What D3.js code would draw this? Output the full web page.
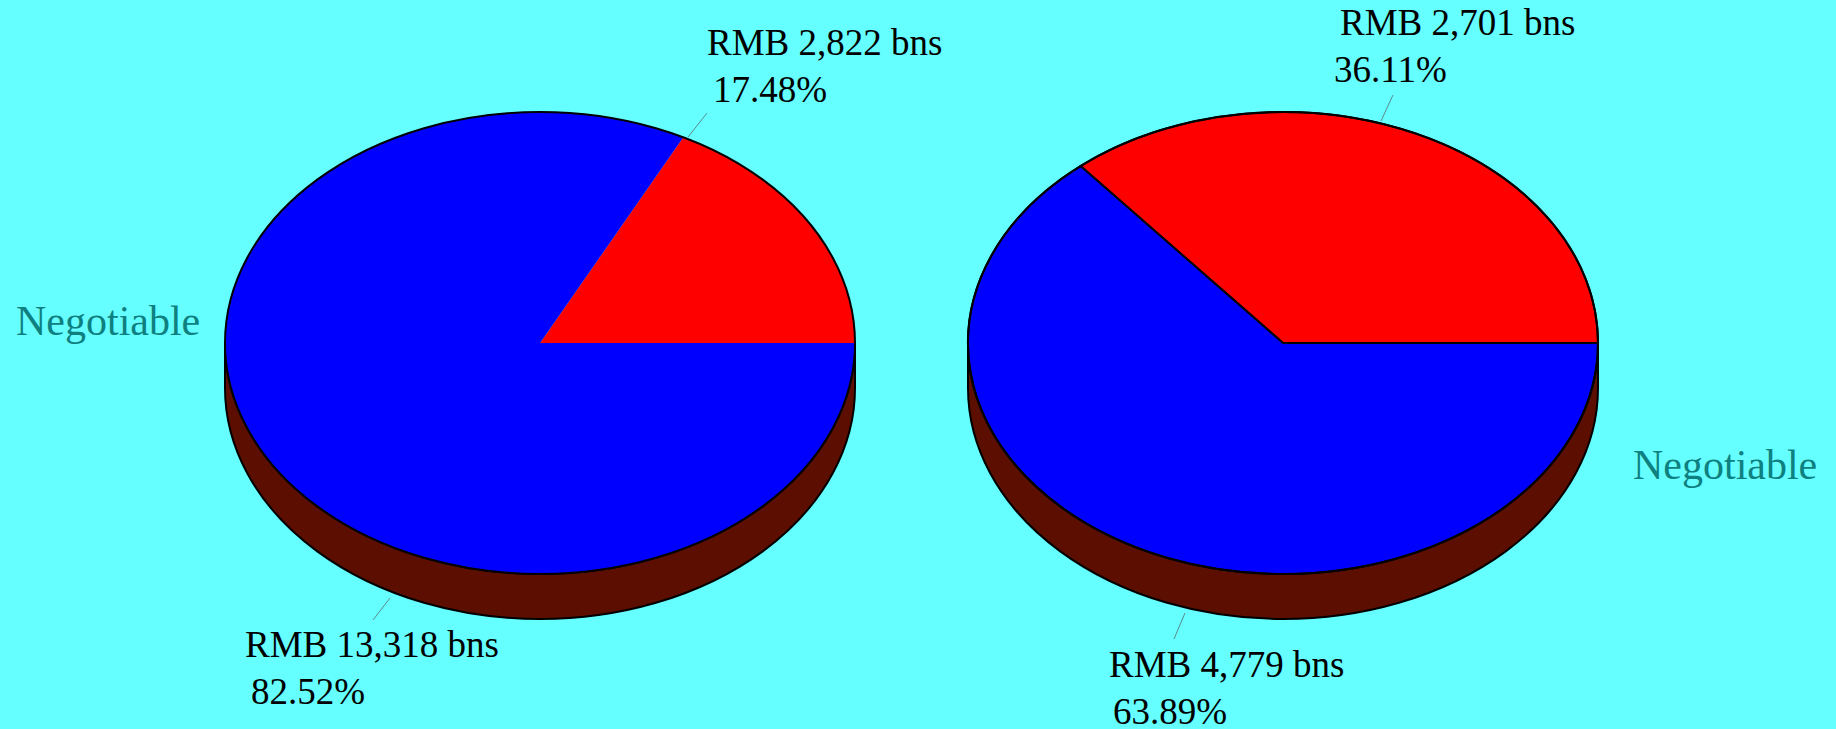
<!DOCTYPE html>
<html>
<head>
<meta charset="utf-8">
<script src="https://cdn.jsdelivr.net/npm/d3@7"></script>
<style>
  html, body { margin: 0; padding: 0; background: #66ffff; }
  svg { display: block; }
  text { font-family: 'Liberation Serif', 'Times New Roman', serif; }
</style>
</head>
<body>
<div id="chart"></div>
<script>
// values (RMB billions), red slice first, then blue
const leftValues = [2822, 13318];
const rightValues = [2701, 4779];
const sliceColors = ['#ff0000', '#0000ff'];
const sideLabel = 'Negotiable';

document.addEventListener('DOMContentLoaded', () => {
  const width = 1836;
  const height = 729;

  const svg = d3.select('#chart')
                .append('svg')
                .attr('width', width)
                .attr('height', height);

  svg.append('rect')
     .attr('width', width)
     .attr('height', height)
     .attr('fill', '#66ffff');

  const fmtVal = d3.format(',');
  const fmtPct = d3.format('.2%');

  // layout of the two pies and their labels
  const pies = [
    {
      values: leftValues, cx: 540, cy: 343, rx: 315, ry: 231, depth: 45, sliceStroke: false,
      labels: [
        { x: 707, y: 55, dx2: 6, from: [688, 137], to: [707, 113] },
        { x: 245, y: 657, dx2: 6, from: [390, 598], to: [373, 620] }
      ],
      neg: { x: 16, y: 335 }
    },
    {
      values: rightValues, cx: 1283, cy: 343, rx: 315, ry: 231, depth: 45, sliceStroke: true,
      labels: [
        { x: 1340, y: 35, dx2: -6, from: [1381, 121], to: [1393, 95] },
        { x: 1109, y: 677, dx2: 4, from: [1185, 613], to: [1174, 639] }
      ],
      neg: { x: 1633, y: 479 }
    }
  ];

  const pie = d3.pie().sort(null).value((d) => d);

  pies.forEach((p) => {
    const g = svg.append('g');
    const total = d3.sum(p.values);
    const pt = (t) => [p.cx + p.rx * Math.cos(t), p.cy - p.ry * Math.sin(t)];

    // side wall (front half)
    g.append('path')
     .attr('d', 'M' + (p.cx - p.rx) + ',' + p.cy +
                'L' + (p.cx - p.rx) + ',' + (p.cy + p.depth) +
                'A' + p.rx + ',' + p.ry + ' 0 0 0 ' + (p.cx + p.rx) + ',' + (p.cy + p.depth) +
                'L' + (p.cx + p.rx) + ',' + p.cy +
                'A' + p.rx + ',' + p.ry + ' 0 0 1 ' + (p.cx - p.rx) + ',' + p.cy + 'Z')
     .attr('fill', '#5c0f00')
     .attr('stroke', '#000')
     .attr('stroke-width', 2);

    // top slices, angles counter-clockwise from 3 o'clock
    const arcs = pie(p.values);
    g.selectAll('path.slice')
     .data(arcs)
     .enter()
     .append('path')
     .attr('class', 'slice')
     .attr('d', (d) => {
       const a = pt(d.startAngle);
       const b = pt(d.endAngle);
       const large = d.endAngle - d.startAngle > Math.PI ? 1 : 0;
       return 'M' + p.cx + ',' + p.cy + 'L' + a[0] + ',' + a[1] +
              'A' + p.rx + ',' + p.ry + ' 0 ' + large + ' 0 ' + b[0] + ',' + b[1] + 'Z';
     })
     .attr('fill', (d, i) => sliceColors[i])
     .attr('stroke', p.sliceStroke ? '#000' : 'none')
     .attr('stroke-width', 2)
     .attr('stroke-linejoin', 'round');

    g.append('ellipse')
     .attr('cx', p.cx)
     .attr('cy', p.cy)
     .attr('rx', p.rx)
     .attr('ry', p.ry)
     .attr('fill', 'none')
     .attr('stroke', '#000')
     .attr('stroke-width', 2);

    // value labels with leader lines
    arcs.forEach((d, i) => {
      const l = p.labels[i];
      g.append('line')
       .attr('x1', l.from[0]).attr('y1', l.from[1])
       .attr('x2', l.to[0]).attr('y2', l.to[1])
       .attr('stroke', '#5a8c8c')
       .attr('stroke-width', 1);
      const txt = g.append('text')
                   .style('font-size', 37 + 'px')
                   .attr('fill', '#000');
      txt.append('tspan')
         .attr('x', l.x).attr('y', l.y)
         .text('RMB ' + fmtVal(d.data) + ' bns');
      txt.append('tspan')
         .attr('x', l.x + l.dx2).attr('y', l.y + 47)
         .text(fmtPct(d.data / total));
    });

    g.append('text')
     .attr('x', p.neg.x)
     .attr('y', p.neg.y)
     .style('font-size', 42 + 'px')
     .attr('fill', '#0e8080')
     .text(sideLabel);
  });
});
</script>
</body>
</html>
